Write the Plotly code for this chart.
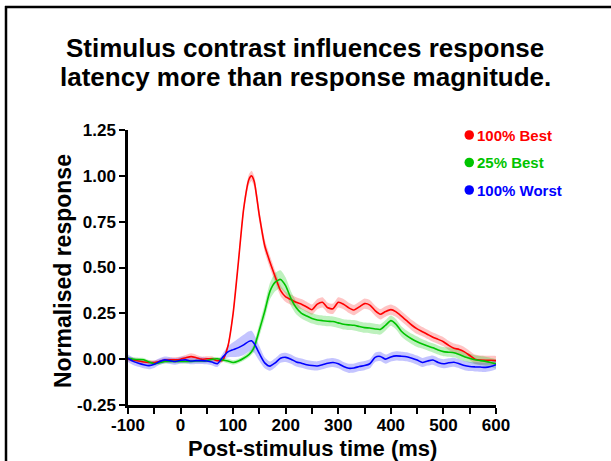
import numpy as np
import plotly.graph_objects as go

time_ms = [-100, -90, -80, -70, -60, -50, -40, -30, -20, -10, 0, 10, 20, 30, 40, 50, 60, 70, 80, 90,
           100, 110, 120, 130, 135, 140, 150, 160, 170, 180, 190, 200, 210, 220, 230, 240, 250, 260, 270, 280,
           290, 300, 310, 320, 330, 340, 350, 360, 370, 380, 390, 400, 410, 420, 430, 440, 450, 460, 470, 480,
           490, 500, 510, 520, 530, 540, 550, 560, 570, 580, 590, 600]

best100 = [0.0, -0.005, -0.01, -0.015, -0.018, -0.018, -0.012, -0.006, -0.004, -0.004, 0.0, 0.008, 0.014, 0.008, 0.0, 0.002, 0.002, -0.008, -0.005, 0.07,
           0.25, 0.53, 0.82, 0.98, 1.0, 0.97, 0.78, 0.62, 0.53, 0.45, 0.375, 0.34, 0.325, 0.31, 0.30, 0.285, 0.27, 0.30, 0.31, 0.28,
           0.275, 0.31, 0.30, 0.28, 0.268, 0.285, 0.303, 0.295, 0.265, 0.245, 0.26, 0.27, 0.258, 0.235, 0.21, 0.185, 0.165, 0.15, 0.135, 0.12,
           0.108, 0.095, 0.075, 0.06, 0.053, 0.04, 0.02, 0.0, -0.005, -0.006, -0.006, -0.008]
best25 = [0.005, 0.0, -0.002, -0.003, -0.015, -0.025, -0.02, -0.013, -0.012, -0.012, -0.012, -0.013, -0.012, -0.01, -0.01, -0.008, 0.0, 0.002, -0.004, -0.01,
          -0.018, -0.01, 0.005, 0.025, 0.04, 0.065, 0.16, 0.26, 0.37, 0.42, 0.435, 0.40, 0.33, 0.28, 0.25, 0.235, 0.222, 0.214, 0.21, 0.207,
          0.205, 0.198, 0.19, 0.187, 0.185, 0.178, 0.172, 0.17, 0.165, 0.162, 0.185, 0.21, 0.19, 0.152, 0.128, 0.11, 0.095, 0.083, 0.072, 0.062,
          0.05, 0.041, 0.038, 0.035, 0.025, 0.013, 0.005, -0.003, -0.008, -0.012, -0.018, -0.026]
worst100 = [0.005, -0.012, -0.022, -0.03, -0.035, -0.028, -0.013, -0.004, -0.008, -0.013, -0.006, -0.004, -0.01, -0.008, -0.008, -0.01, -0.016, -0.025, 0.01, 0.04,
            0.052, 0.063, 0.078, 0.097, 0.1, 0.085, 0.03, -0.02, -0.038, -0.02, 0.005, 0.01, 0.0, -0.015, -0.022, -0.03, -0.035, -0.037, -0.03, -0.022,
            -0.018, -0.025, -0.04, -0.05, -0.048, -0.04, -0.035, -0.025, 0.01, 0.015, 0.0, 0.012, 0.018, 0.016, 0.013, 0.005, -0.005, -0.018, -0.01, -0.005,
            -0.018, -0.025, -0.02, -0.017, -0.025, -0.035, -0.04, -0.042, -0.043, -0.045, -0.04, -0.03]

sem_best100 = [0.012] * 9 + [0.014, 0.014, 0.015, 0.018, 0.016, 0.014, 0.014, 0.014, 0.012, 0.012, 0.015,
               0.02, 0.022, 0.025, 0.028, 0.028, 0.03, 0.032, 0.034, 0.034, 0.032, 0.03] + [0.028] * 26 + [0.025] * 15
sem_best25 = [0.01] * 19 + [0.012, 0.012, 0.012, 0.014, 0.015, 0.016, 0.025, 0.035, 0.04, 0.045, 0.05, 0.05, 0.045, 0.04, 0.035] + [0.028] * 23 + [0.025] * 15
sem_worst100 = [0.02] * 6 + [0.018] * 12 + [0.02, 0.03, 0.04, 0.05, 0.055, 0.055, 0.055, 0.05, 0.04, 0.03] + [0.025] * 44

series_names = ["100% Best", "25% Best", "100% Worst"]
series_values = [best100, best25, worst100]
series_sems = [sem_best100, sem_best25, sem_worst100]
line_colors = ["#ff0000", "#00c400", "#0000ff"]
band_colors = ["rgba(255,60,60,0.30)", "rgba(40,210,40,0.30)", "rgba(60,60,255,0.30)"]

x_ticks = [-100, 0, 100, 200, 300, 400, 500, 600]
y_ticks = [-0.25, 0.0, 0.25, 0.5, 0.75, 1.0, 1.25]

FONT = "Liberation Sans, Arial, sans-serif"

fig = go.Figure()
t = np.array(time_ms, dtype=float)
for vals, sems, bc in zip(series_values, series_sems, band_colors):
    v = np.array(vals)
    s = np.array(sems)
    fig.add_trace(go.Scatter(
        x=np.concatenate([t, t[::-1]]),
        y=np.concatenate([v + s, (v - s)[::-1]]),
        fill="toself", fillcolor=bc, line=dict(width=0, shape="spline", smoothing=0.6),
        mode="lines", hoverinfo="skip", showlegend=False))
for name, vals, lc in zip(series_names, series_values, line_colors):
    fig.add_trace(go.Scatter(x=time_ms, y=vals, mode="lines", name=name,
                             line=dict(color=lc, width=1.6, shape="spline", smoothing=0.6),
                             showlegend=False))

L, R, T, B = 128, 115, 130, 56
W, H = 611, 461
pw, ph = W - L - R, H - T - B

def px(xp):
    return (xp - L) / pw

def py(yp):
    return (H - B - yp) / ph

annotations = []
shapes = []
# title
annotations.append(dict(text="<b>Stimulus contrast influences response</b>", x=px(305), y=py(48),
                        xref="paper", yref="paper", showarrow=False, xanchor="center", yanchor="middle",
                        font=dict(family=FONT, size=26, color="black")))
annotations.append(dict(text="<b>latency more than response magnitude.</b>", x=px(305), y=py(77),
                        xref="paper", yref="paper", showarrow=False, xanchor="center", yanchor="middle",
                        font=dict(family=FONT, size=26, color="black")))
# axis titles
annotations.append(dict(text="<b>Post-stimulus time (ms)</b>", x=px(312), y=py(448),
                        xref="paper", yref="paper", showarrow=False, xanchor="center", yanchor="middle",
                        font=dict(family=FONT, size=22, color="black")))
annotations.append(dict(text="<b>Normalised response</b>", x=px(63), y=py(271), textangle=-90,
                        xref="paper", yref="paper", showarrow=False, xanchor="center", yanchor="middle",
                        font=dict(family=FONT, size=23, color="black")))
# legend
for i, (name, lc) in enumerate(zip(series_names, line_colors)):
    yc = 135 + i * 27.5
    annotations.append(dict(text="<b>" + name + "</b>", x=px(475), y=py(yc), xref="paper", yref="paper",
                            showarrow=False, xanchor="left", yanchor="middle",
                            font=dict(family=FONT, size=15, color=lc)))
    shapes.append(dict(type="circle", xref="paper", yref="paper",
                       x0=px(464.5), x1=px(474), y0=py(yc + 4.8), y1=py(yc - 4.8),
                       fillcolor=lc, line=dict(width=0)))
# frame (top and left edges visible)
shapes.append(dict(type="line", xref="paper", yref="paper", x0=px(6), x1=px(6), y0=py(470), y1=py(6),
                   line=dict(color="black", width=2.5)))
shapes.append(dict(type="line", xref="paper", yref="paper", x0=px(5), x1=px(620), y0=py(7), y1=py(7),
                   line=dict(color="black", width=2.5)))

fig.update_layout(
    width=W, height=H, margin=dict(l=L, r=R, t=T, b=B, pad=0),
    paper_bgcolor="white", plot_bgcolor="white",
    font=dict(family=FONT, color="black"),
    annotations=annotations, shapes=shapes, showlegend=False,
    xaxis=dict(range=[-100, 600], tickvals=x_ticks, ticktext=["<b>%d</b>" % v for v in x_ticks],
               showline=True, linecolor="black", linewidth=2.5, ticks="outside", ticklen=6,
               tickwidth=2, tickcolor="black", showgrid=False, zeroline=False, ticklabelstandoff=-3,
               tickfont=dict(family=FONT, size=17, color="black"),
               minor=dict(dtick=50, tick0=-100, ticks="outside", ticklen=6, tickwidth=2, tickcolor="black", showgrid=False)),
    yaxis=dict(range=[-0.25, 1.25], tickvals=y_ticks, ticktext=["<b>%.2f</b>" % v for v in y_ticks],
               showline=True, linecolor="black", linewidth=2.5, ticks="outside", ticklen=6,
               tickwidth=2, tickcolor="black", showgrid=False, zeroline=False,
               tickfont=dict(family=FONT, size=17, color="black")),
)

fig.write_html("out.html", config={"displayModeBar": False},
               post_script="document.body.style.margin='0';document.body.style.padding='0';")
